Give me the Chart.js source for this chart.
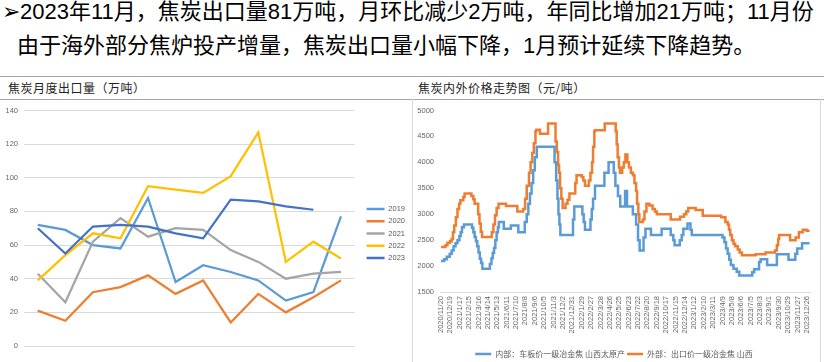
<!DOCTYPE html>
<html>
<head>
<meta charset="utf-8">
<script src="https://cdn.jsdelivr.net/npm/chart.js@4.4.1/dist/chart.umd.min.js"></script>
<style>
  html, body { margin: 0; padding: 0; background: #fff; overflow: hidden; }
  body { width: 824px; height: 362px; position: relative; font-family: "Liberation Sans", "Noto Sans CJK SC", sans-serif; }
  .note { position: absolute; font-size: 22px; line-height: 24px; color: #000; white-space: nowrap; }
  .title { position: absolute; top: 80px; font-size: 12px; line-height: 16px; color: #222; letter-spacing: 0.5px; font-family: "Noto Sans CJK SC", sans-serif; white-space: nowrap; }
  .hline { position: absolute; height: 1px; background: #a6a6a6; }
  .vline { position: absolute; width: 1px; background: #d9d9d9; }
  canvas { position: absolute; }
</style>
</head>
<body>
<div class="note" style="left:2px; top:0px">➢2023年11月，焦炭出口量81万吨，月环比减少2万吨，年同比增加21万吨；11月份</div>
<div class="note" style="left:17px; top:34px">由于海外部分焦炉投产增量，焦炭出口量小幅下降，1月预计延续下降趋势。</div>

<div class="hline" style="left:0; top:76px; width:824px"></div>
<div class="hline" style="left:0; top:99px; width:824px"></div>
<div class="vline" style="left:412px; top:99px; height:263px"></div>
<div class="vline" style="left:820px; top:99px; height:263px"></div>
<div class="title" style="left:8px">焦炭月度出口量（万吨）</div>
<div class="title" style="left:418px">焦炭内外价格走势图（元/吨）</div>

<canvas id="exportChart" width="415" height="268" style="left:0; top:100px"></canvas>
<canvas id="priceChart" width="407" height="268" style="left:413px; top:100px"></canvas>

<script>
// 焦炭月度出口量（万吨）
const months = ['1', '2', '3', '4', '5', '6', '7', '8', '9', '10', '11', '12'];
const exp2019 = [72, 69, 60, 58, 88, 38, 48, 44, 39, 27, 32, 77];
const exp2020 = [21, 15, 32, 35, 42, 31, 39, 14, 31, 20, 29, 39];
const exp2021 = [43, 26, 62, 76, 65, 70, 69, 57, 50, 40, 43, 44];
const exp2022 = [39, 54, 67, 64, 95, 93, 91, 101, 127, 50, 62, 52];
const exp2023 = [70, 55, 71, 72, 71, 67, 64, 87, 86, 83, 81];

// 焦炭内外价格（元/吨）: day offset from 2020/11/20 where the price changes
const innerDays = [0, 10, 18, 27, 33, 39, 45, 51, 57, 61,
  65, 71, 96, 100, 104, 108, 112, 116, 120, 124,
  128, 151, 156, 160, 164, 168, 172, 176, 179, 194,
  216, 239, 259, 265, 270, 275, 280, 285, 290, 296,
  351, 356, 360, 363, 366, 369, 408, 412, 437, 441,
  445, 462, 466, 470, 476, 505, 518, 534, 539, 547,
  554, 569, 575, 593, 603, 609, 614, 626, 632, 649,
  682, 710, 718, 722, 738, 744, 749, 762, 771, 775,
  870, 876, 881, 886, 891, 896, 904, 914, 922, 962,
  968, 983, 988, 1008, 1038, 1074, 1095, 1101, 1116, 1139];
const innerPrices = [2100, 2130, 2180, 2240, 2300, 2380, 2440, 2500, 2580, 2650,
  2750, 2800, 2740, 2650, 2560, 2480, 2380, 2260, 2140, 2060,
  1950, 2040, 2150, 2250, 2350, 2500, 2650, 2750, 2850, 2720,
  2780, 2650, 2850, 3000, 3200, 3400, 3600, 3850, 4100, 4300,
  4000, 3650, 3300, 3000, 2800, 2600, 2900, 3150, 3000, 2850,
  2700, 2900, 3100, 3300, 3550, 3800, 4000, 3800, 3550, 3350,
  3150, 3450, 3150, 3000, 2800, 2500, 2300, 2550, 2720, 2600,
  2720, 2600, 2500, 2400, 2500, 2600, 2720, 2820, 2700, 2600,
  2550, 2460, 2340, 2240, 2120, 2020, 1950, 1890, 1820, 1880,
  1940, 2080, 2130, 2020, 2230, 2120, 2240, 2340, 2440, 2440];

const outerDays = [0, 14, 20, 28, 33, 37, 41, 46, 51, 56,
  60, 69, 73, 94, 100, 104, 115, 119, 123, 127,
  157, 162, 167, 172, 178, 201, 236, 254, 260, 265,
  272, 277, 282, 287, 292, 295, 306, 331, 354, 358,
  362, 365, 368, 372, 376, 385, 391, 397, 415, 419,
  435, 440, 445, 457, 462, 467, 470, 474, 476, 506,
  540, 543, 546, 550, 553, 560, 565, 570, 576, 581,
  587, 593, 598, 603, 606, 610, 613, 624, 629, 635,
  644, 654, 661, 667, 710, 739, 751, 758, 764, 787,
  809, 866, 879, 886, 890, 894, 899, 904, 909, 917,
  923, 930, 972, 1003, 1032, 1038, 1042, 1045, 1079, 1096,
  1106, 1118, 1130, 1139];
const outerPrices = [2370, 2400, 2450, 2480, 2520, 2650, 2780, 2940, 3100, 3200,
  3270, 3330, 3400, 3350, 3290, 3200, 3000, 2820, 2660, 2560,
  2650, 2800, 2980, 3120, 3200, 3160, 3050, 3100, 3300, 3550,
  3800, 4000, 4180, 4370, 4600, 4630, 4550, 4750, 4400, 4200,
  3950, 3800, 3500, 3300, 3120, 3200, 3280, 3400, 3600, 3750,
  3720, 3650, 3550, 3650, 3800, 4000, 4300, 4600, 4620, 4750,
  4600, 4350, 4100, 3900, 3800, 3900, 4000, 4150, 4000, 3900,
  3800, 3750, 3600, 3450, 3200, 3000, 2850, 2900, 3050, 3200,
  3170, 3100, 3050, 3000, 2900, 2950, 3000, 3050, 3120, 3080,
  2970, 2940, 2850, 2800, 2700, 2600, 2500, 2430, 2380, 2320,
  2260, 2210, 2230, 2260, 2300, 2400, 2520, 2600, 2500, 2550,
  2650, 2700, 2680, 2680];

const dateLabels = ['2020/11/20', '2020/12/19', '2021/1/17', '2021/2/15', '2021/3/16', '2021/4/14',
  '2021/5/13', '2021/6/11', '2021/7/10', '2021/8/8', '2021/9/6', '2021/10/5', '2021/11/3',
  '2021/12/2', '2021/12/31', '2022/1/29', '2022/2/27', '2022/3/28', '2022/4/26', '2022/5/25',
  '2022/6/23', '2022/7/22', '2022/8/20', '2022/9/18', '2022/10/17', '2022/11/15', '2022/12/14',
  '2023/1/12', '2023/2/10', '2023/3/11', '2023/4/9', '2023/5/8', '2023/6/6', '2023/7/5',
  '2023/8/3', '2023/9/1', '2023/9/30', '2023/10/29', '2023/11/27', '2023/12/26'];

const tickFont = { family: '"Liberation Sans", sans-serif', size: 7.5 };
const tickColor = '#666';

// legend boxes drawn as plain colour bars
function barLabels(chart) {
  return Chart.defaults.plugins.legend.labels.generateLabels(chart)
    .map(l => Object.assign(l, { lineWidth: 0 }));
}

function dayOf(s) {
  const [y, m, d] = s.split('/').map(Number);
  const [y0, m0, d0] = dateLabels[0].split('/').map(Number);
  return Math.round((Date.UTC(y, m - 1, d) - Date.UTC(y0, m0 - 1, d0)) / 86400000);
}

const lineSet = (label, data, color, order) => ({
  label, data, order,
  borderColor: color, backgroundColor: color,
  borderWidth: 2.25, pointRadius: 0, tension: 0, fill: false
});

new Chart(document.getElementById('exportChart'), {
  type: 'line',
  data: {
    labels: months,
    datasets: [
      lineSet('2019', exp2019, '#5B9BD5', 5),
      lineSet('2020', exp2020, '#ED7D31', 4),
      lineSet('2021', exp2021, '#A5A5A5', 3),
      lineSet('2022', exp2022, '#FFC000', 2),
      lineSet('2023', exp2023, '#4472C4', 1)
    ]
  },
  options: {
    responsive: false,
    animation: false,
    layout: { padding: { top: 9, bottom: 10, left: 0, right: 0 } },
    scales: {
      x: {
        offset: true,
        grid: { display: false },
        border: { display: false },
        ticks: { padding: 6, color: tickColor, font: tickFont },
        afterFit: s => { s.height = 12; }
      },
      y: {
        min: 0, max: 140,
        ticks: { stepSize: 20, padding: 6, color: tickColor, font: tickFont },
        grid: { color: '#d9d9d9', drawTicks: false },
        border: { display: false },
        afterFit: s => { s.width = 24; }
      },
      gap: {
        position: 'right',
        ticks: { display: false },
        grid: { display: false, drawTicks: false },
        border: { display: false },
        afterFit: s => { s.width = 7; }
      }
    },
    plugins: {
      legend: {
        position: 'right',
        labels: {
          boxWidth: 18, boxHeight: 2.5, padding: 4.8,
          color: '#595959', font: tickFont,
          generateLabels: barLabels,
          sort: (a, b) => a.datasetIndex - b.datasetIndex
        }
      },
      tooltip: { enabled: false }
    }
  }
});

const toPoints = (days, prices) => days.map((d, i) => ({ x: d, y: prices[i] }));

new Chart(document.getElementById('priceChart'), {
  type: 'line',
  data: {
    datasets: [
      Object.assign(lineSet('内部：车板价一级冶金焦 山西太原产', toPoints(innerDays, innerPrices), '#5B9BD5', 0), { stepped: true, borderWidth: 2.5 }),
      Object.assign(lineSet('外部：出口价一级冶金焦 山西', toPoints(outerDays, outerPrices), '#ED7D31', 0), { stepped: true, borderWidth: 2.5 })
    ]
  },
  options: {
    responsive: false,
    animation: false,
    layout: { padding: { top: 9, bottom: 0, left: 0, right: 5 } },
    scales: {
      x: {
        type: 'linear',
        min: -3, max: 1143,
        afterBuildTicks: s => { s.ticks = dateLabels.map(l => ({ value: dayOf(l) })); },
        ticks: {
          autoSkip: false, minRotation: 90, maxRotation: 90, padding: 4,
          color: tickColor, font: tickFont,
          callback: (v, i) => dateLabels[i]
        },
        grid: { display: false, drawTicks: false },
        border: { display: true, color: '#d9d9d9', width: 1 },
        afterFit: s => { s.height = 56; }
      },
      y: {
        min: 1500, max: 5000,
        ticks: { stepSize: 500, padding: 6, color: tickColor, font: tickFont, callback: v => String(v) },
        grid: { display: false, drawTicks: false },
        border: { display: false },
        afterFit: s => { s.width = 27; }
      }
    },
    plugins: {
      legend: {
        position: 'bottom',
        labels: {
          boxWidth: 16, boxHeight: 2.5, padding: 2,
          color: '#595959',
          font: { family: '"Noto Sans CJK SC", sans-serif', size: 8 },
          generateLabels: barLabels
        }
      },
      tooltip: { enabled: false }
    }
  }
});
</script>
</body>
</html>
